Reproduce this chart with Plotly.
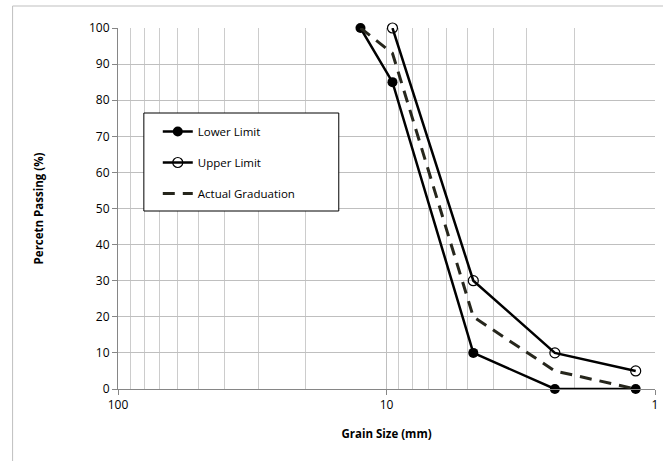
import plotly.graph_objects as go

# sieve sizes (mm) and percent passing
lower_size = [12.5, 9.5, 4.75, 2.36, 1.18]
lower_pass = [100, 85, 10, 0, 0]

upper_size = [9.5, 4.75, 2.36, 1.18]
upper_pass = [100, 30, 10, 5]

actual_size = [12.5, 9.5, 4.75, 2.36, 1.18]
actual_pass = [100, 93, 20, 5, 0]

fig = go.Figure()
fig.add_trace(go.Scatter(x=lower_size, y=lower_pass, mode='lines+markers', name='Lower Limit',
                         legendgroup='a', cliponaxis=False,
                         line=dict(color='black', width=2.5),
                         marker=dict(symbol='circle', size=10, color='black')))
fig.add_trace(go.Scatter(x=upper_size, y=upper_pass, mode='lines+markers', name='Upper Limit',
                         legendgroup='b', cliponaxis=False,
                         line=dict(color='black', width=2.5),
                         marker=dict(symbol='circle-open', size=10, color='black', line=dict(width=1.2))))
fig.add_trace(go.Scatter(x=actual_size, y=actual_pass, mode='lines', name='Actual Graduation',
                         legendgroup='c', cliponaxis=False,
                         line=dict(color='#26261c', width=3, dash='12px,8px')))

# plot area in pixels: x 118..658, y 28..389
W, H = 663, 461
L, R, T, B = 118, 5, 28, 72
pw, ph = W - L - R, H - T - B

def px(x):
    return (x - L) / pw

def py(y):
    return 1 - (y - T) / ph

fig.update_layout(
    width=W, height=H,
    margin=dict(l=L, r=R, t=T, b=B),
    paper_bgcolor='white', plot_bgcolor='white',
    font=dict(family='Open Sans, Liberation Sans, sans-serif', size=12, color='black'),
    showlegend=True,
    legend=dict(x=px(158), y=py(117), xanchor='left', yanchor='top',
                bgcolor='rgba(0,0,0,0)', borderwidth=0,
                font=dict(size=11.5), tracegroupgap=12),
    shapes=[
        # legend box
        dict(type='rect', xref='paper', yref='paper', x0=px(144), x1=px(340), y0=py(113), y1=py(211),
             fillcolor='white', line=dict(color='black', width=1), layer='above'),
        # chart border
        dict(type='line', xref='paper', yref='paper', x0=px(12), x1=px(12),
             y0=py(6), y1=py(470), line=dict(color='#bfbfbf', width=1)),
        dict(type='line', xref='paper', yref='paper', x0=px(12), x1=px(670),
             y0=py(6), y1=py(6), line=dict(color='#bfbfbf', width=1)),
    ],
)

fig.update_xaxes(type='log', range=[2, 0], autorange=False,
                 tickvals=[100, 10, 1], ticktext=['100', '10', '1'],
                 ticks='outside', ticklen=5, tickcolor='#868686',
                 showline=True, linecolor='#868686', linewidth=1,
                 showgrid=True, gridcolor='#bfbfbf', gridwidth=1,
                 minor=dict(dtick='D1', showgrid=True, gridcolor='#cccccc', gridwidth=1, ticks=''),
                 zeroline=False,
                 title=dict(text='<b>Grain Size (mm)</b>', font=dict(size=11.5), standoff=17))

fig.update_yaxes(range=[0, 100], dtick=10, autorange=False,
                 ticks='outside', ticklen=5, tickcolor='#868686',
                 showline=True, linecolor='#868686', linewidth=1,
                 showgrid=True, gridcolor='#bfbfbf', gridwidth=1,
                 zeroline=False,
                 title=dict(text='<b>Percetn Passing (%)</b>', font=dict(size=11.5), standoff=42))

fig.write_html("out.html", config={'displayModeBar': False},
               post_script="document.body.style.margin='0';")
